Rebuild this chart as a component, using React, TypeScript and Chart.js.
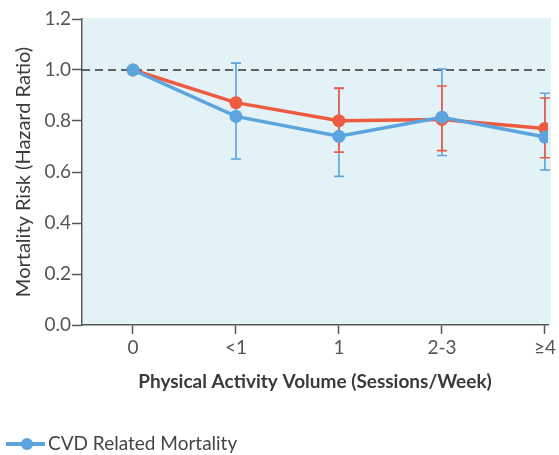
import React, { useEffect, useRef } from "react";
import { Chart, registerables } from "chart.js";

Chart.register(...registerables);

const categories = ["0", "<1", "1", "2-3", "≥4"];
const cvdValues = [1.0, 0.818, 0.74, 0.815, 0.737];
const cvdLower = [null, 0.651, 0.583, 0.665, 0.608];
const cvdUpper = [null, 1.027, 0.928, 1.004, 0.909];
const allValues = [1.0, 0.872, 0.801, 0.806, 0.771];
const allLower = [null, null, 0.678, 0.684, 0.656];
const allUpper = [null, null, 0.929, 0.937, 0.89];
const yTicks = [0, 0.2, 0.4, 0.6, 0.8, 1.0, 1.2];

const BLUE = "#5ba4dd";
const RED = "#ef5b40";
const FONT = "Lato, 'Noto Sans', sans-serif";

const bgPlugin = {
  id: "bgPlugin",
  beforeDatasetsDraw(chart: any) {
    const { ctx, chartArea, scales } = chart;
    ctx.save();
    ctx.fillStyle = "#e2f2f6";
    ctx.fillRect(chartArea.left + 1, chartArea.top - 1, chartArea.right - chartArea.left + 2, chartArea.bottom - chartArea.top);
    const y1 = scales.y.getPixelForValue(1.0);
    ctx.strokeStyle = "#333";
    ctx.lineWidth = 1.5;
    ctx.setLineDash([8, 5]);
    ctx.beginPath();
    ctx.moveTo(chartArea.left, y1);
    ctx.lineTo(chartArea.right + 2, y1);
    ctx.stroke();
    ctx.setLineDash([]);
    const drawBars = (lo: (number | null)[], hi: (number | null)[], color: string) => {
      ctx.strokeStyle = color;
      ctx.lineWidth = 1.6;
      lo.forEach((l, i) => {
        const h = hi[i];
        if (l == null || h == null) return;
        const x = scales.x.getPixelForValue(i);
        const yl = scales.y.getPixelForValue(l);
        const yh = scales.y.getPixelForValue(h);
        ctx.beginPath();
        ctx.moveTo(x, yl);
        ctx.lineTo(x, yh);
        ctx.moveTo(x - 5, yl);
        ctx.lineTo(x + 5, yl);
        ctx.moveTo(x - 5, yh);
        ctx.lineTo(x + 5, yh);
        ctx.stroke();
      });
    };
    drawBars(cvdLower, cvdUpper, BLUE);
    drawBars(allLower, allUpper, RED);
    ctx.restore();
  },
  afterDraw(chart: any) {
    const { ctx } = chart;
    ctx.save();
    const y = 444;
    ctx.strokeStyle = BLUE;
    ctx.lineWidth = 4;
    ctx.beginPath();
    ctx.moveTo(6, y);
    ctx.lineTo(45, y);
    ctx.stroke();
    ctx.fillStyle = BLUE;
    ctx.beginPath();
    ctx.arc(27, y, 6, 0, Math.PI * 2);
    ctx.fill();
    ctx.fillStyle = "#444";
    ctx.font = `19px ${FONT}`;
    ctx.textBaseline = "middle";
    ctx.textAlign = "left";
    ctx.fillText("CVD Related Mortality", 48, y);
    ctx.restore();
  },
};

export default function App() {
  const ref = useRef<HTMLCanvasElement>(null);
  useEffect(() => {
    document.body.style.margin = "0";
    const chart = new Chart(ref.current!, {
      type: "line",
      data: {
        datasets: [
          {
            label: "CVD Related Mortality",
            data: cvdValues.map((v, i) => ({ x: i, y: v })),
            borderColor: BLUE,
            backgroundColor: BLUE,
            borderWidth: 3.5,
            pointRadius: 6.5,
            pointHoverRadius: 6.5,
            pointBorderWidth: 0,
          },
          {
            label: "All-Cause Mortality",
            data: allValues.map((v, i) => ({ x: i, y: v })),
            borderColor: RED,
            backgroundColor: RED,
            borderWidth: 3.5,
            pointRadius: 6.5,
            pointHoverRadius: 6.5,
            pointBorderWidth: 0,
          },
        ],
      },
      options: {
        animation: false,
        responsive: false,
        maintainAspectRatio: false,
        layout: { padding: { top: 19, right: 11, bottom: 0, left: 0 } },
        plugins: { legend: { display: false }, tooltip: { enabled: false } },
        scales: {
          x: {
            type: "linear",
            min: -0.495,
            max: 4.03,
            afterBuildTicks: (s: any) => {
              s.ticks = categories.map((_, i) => ({ value: i }));
            },
            afterFit: (s: any) => {
              s.height = 130;
            },
            ticks: {
              callback: (v: any) => categories[v as number] ?? "",
              color: "#555",
              font: { family: FONT, size: 19 },
              padding: 2,
              maxRotation: 0,
            },
            grid: { drawOnChartArea: false, drawTicks: true, tickLength: 9, tickColor: "#555", tickWidth: 1.5 },
            border: { display: true, color: "#555", width: 1.5 },
            title: {
              display: true,
              text: "Physical Activity Volume (Sessions/Week)",
              color: "#3a3a3a",
              font: { family: FONT, size: 19, weight: "bold" },
              padding: { top: 0, bottom: 62 },
            },
          },
          y: {
            type: "linear",
            min: 0,
            max: 1.2,
            afterBuildTicks: (s: any) => {
              s.ticks = yTicks.map((v) => ({ value: v }));
            },
            afterFit: (s: any) => {
              s.width = 82;
            },
            ticks: {
              callback: (v: any) => Number(v).toFixed(1),
              color: "#555",
              font: { family: FONT, size: 19 },
              padding: 1,
            },
            grid: { drawOnChartArea: false, drawTicks: true, tickLength: 10, tickColor: "#555", tickWidth: 1.5 },
            border: { display: true, color: "#555", width: 1.5 },
            title: {
              display: true,
              text: "Mortality Risk (Hazard Ratio)",
              color: "#3a3a3a",
              font: { family: FONT, size: 20 },
              padding: { top: 12, bottom: 0 },
            },
          },
        },
      },
      plugins: [bgPlugin],
    });
    return () => chart.destroy();
  }, []);
  return (
    <div style={{ width: 559, height: 455 }}>
      <canvas ref={ref} width={559} height={455} style={{ width: 559, height: 455 }} />
    </div>
  );
}
